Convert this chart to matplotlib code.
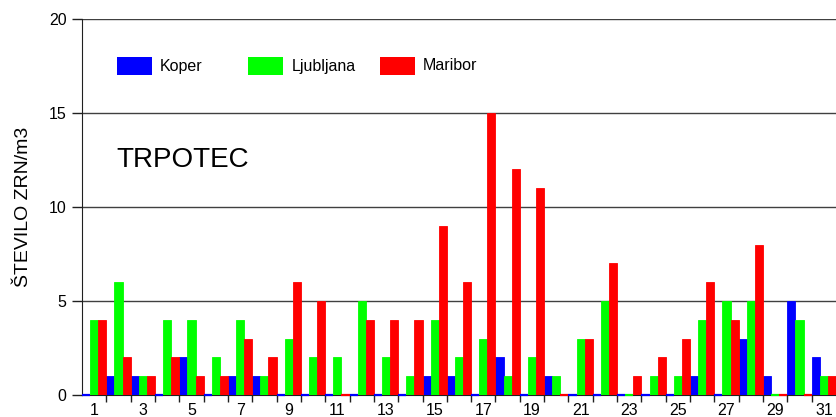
import numpy as np
import matplotlib
matplotlib.use("Agg")
import matplotlib.pyplot as plt
from matplotlib.patches import Rectangle
from matplotlib.ticker import FixedLocator, NullFormatter

plt.rcParams['font.family'] = ['Liberation Sans', 'DejaVu Sans']

days = list(range(1, 32))
koper = [0, 1, 1, 0, 2, 0, 1, 1, 0, 0, 0, 0, 0, 0, 1, 1,
         0, 2, 0, 1, 0, 0, 0, 0, 0, 1, 0, 3, 1, 5, 2]
ljubljana = [4, 6, 1, 4, 4, 2, 4, 1, 3, 2, 2, 5, 2, 1, 4, 2,
             3, 1, 2, 1, 3, 5, 0, 1, 1, 4, 5, 5, 0, 4, 1]
maribor = [4, 2, 1, 2, 1, 1, 3, 2, 6, 5, 0, 4, 4, 4, 9, 6,
           15, 12, 11, 0, 3, 7, 1, 2, 3, 6, 4, 8, 0, 0, 1]

series = [("Koper", koper, "#0000ff"),
          ("Ljubljana", ljubljana, "#00ff00"),
          ("Maribor", maribor, "#ff0000")]

fig = plt.figure(figsize=(8.36, 4.17), dpi=100)
ax = fig.add_axes([82 / 836, 22 / 417, 754 / 836, 376 / 417])

x = np.array(days)
w = 1 / 3
for i, (name, vals, col) in enumerate(series):
    pos = x + (i - 1) * w
    ax.bar(pos, vals, width=w, color=col, edgecolor=col,
           linewidth=0.6, label=name, zorder=3)
    # zero values show up as a thin coloured line on the baseline
    vals = np.array(vals)
    zp = pos[vals == 0]
    ax.hlines(np.zeros(len(zp)), zp - w / 2, zp + w / 2, colors=col,
              linewidth=1.6, zorder=4, clip_on=False)

ax.set_xlim(0.5, 31.5)
ax.set_ylim(0, 20)
ax.set_yticks([0, 5, 10, 15, 20])
ax.yaxis.grid(True, color="#404040", linewidth=1, zorder=0)
ax.set_axisbelow(True)

ax.set_xticks(days[::2])
ax.xaxis.set_minor_locator(FixedLocator(np.arange(1.5, 31.5, 1)))
ax.xaxis.set_minor_formatter(NullFormatter())
ax.tick_params(axis="x", which="major", length=0, pad=6, labelsize=11.5)
ax.tick_params(axis="x", which="minor", length=5, width=1, color="#202020")
ax.tick_params(axis="y", length=7, width=1, color="#202020", labelsize=11.5, pad=4)

for s in ["top", "right"]:
    ax.spines[s].set_visible(False)
ax.spines["left"].set_color("#202020")
ax.spines["bottom"].set_color("#202020")

ax.set_ylabel("ŠTEVILO ZRN/m3", fontsize=14, labelpad=12)

ax.text(0.046, 0.606, "TRPOTEC", transform=ax.transAxes, fontsize=20,
        ha="left", va="baseline")

# legend drawn as in the original: equal-width entries in one row
for i, (name, vals, col) in enumerate(series):
    x0 = 0.0464 + i * 0.1744
    ax.add_patch(Rectangle((x0, 0.851), 0.0464, 0.048, transform=ax.transAxes,
                           facecolor=col, edgecolor="none", clip_on=False))
    ax.text(x0 + 0.057, 0.875, name, transform=ax.transAxes, fontsize=11.5,
            ha="left", va="center")

fig.savefig("out.png", dpi=100)
